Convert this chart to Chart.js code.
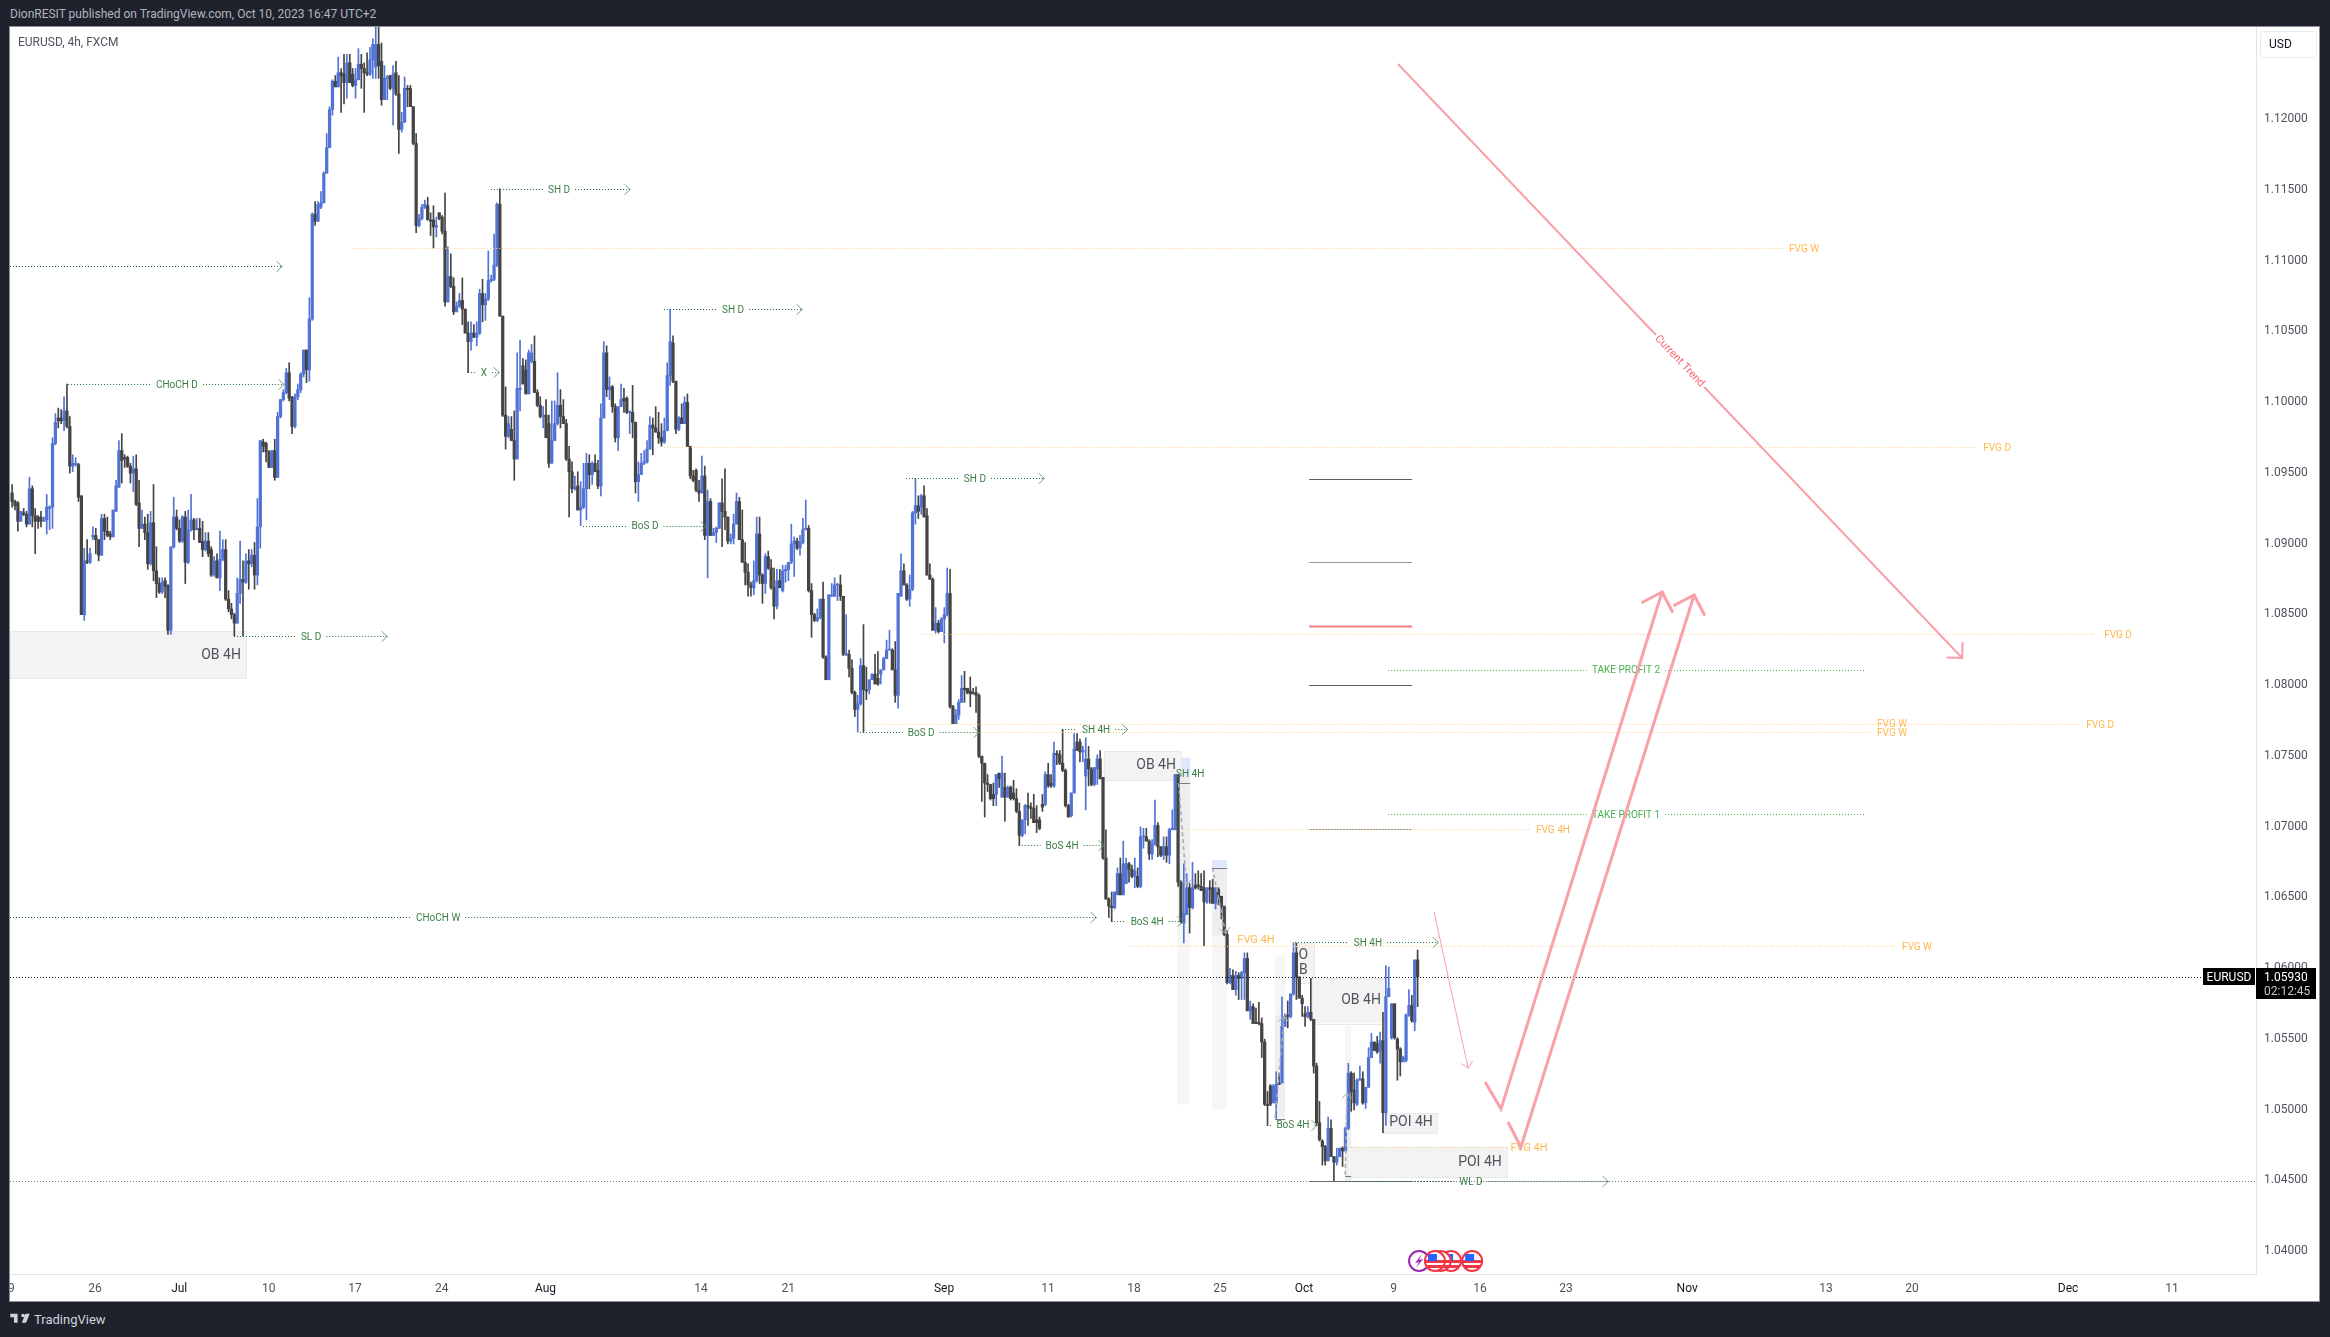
<!DOCTYPE html>
<html>
<head>
<meta charset="utf-8">
<title>EURUSD, 4h, FXCM</title>
<script src="https://cdn.jsdelivr.net/npm/chart.js@4/dist/chart.umd.js"></script>
<style>
	html, body { margin: 0; padding: 0; width: 2330px; height: 1337px; overflow: hidden; background: #1e222d; font-family: Roboto, sans-serif; }
	#publisher { position: absolute; left: 10px; top: 6px; font-size: 12px; line-height: 16px; color: #b2b5be; white-space: nowrap; }
	#frame { position: absolute; left: 10px; top: 27px; width: 2309px; height: 1274px; background: #fff; box-shadow: 0 0 0 1px #8b8e96; }
	#symbol { position: absolute; left: 18px; top: 34px; font-size: 12px; line-height: 16px; color: #50535e; white-space: nowrap; }
	#brand { position: absolute; left: 10px; top: 1311px; height: 18px; color: #d1d4dc; font-size: 13px; line-height: 18px; white-space: nowrap; }
	#brand svg { position: absolute; left: -1px; top: -1px; width: 22px; height: 17px; fill: #d1d4dc; }
	#brand span { position: absolute; left: 24px; top: 0; }
</style>
</head>
<body>
<div id="publisher">DionRESIT published on TradingView.com, Oct 10, 2023 16:47 UTC+2</div>
<div id="frame"><canvas id="chart" width="2309" height="1274"></canvas></div>
<div id="symbol">EURUSD, 4h, FXCM</div>
<div id="brand"><svg viewBox="0 0 36 28"><path d="M14 6H2v6h6v9h6V6zm14 15h-7l6-15h7l-6 15zm-5-9a3 3 0 100-6 3 3 0 000 6z"/></svg><span>TradingView</span></div>
<script>
// 4h candles, one entry per bar
const opens = [
1.0935,1.0929,1.0928,1.0915,1.0921,1.0920,1.0913,1.0938,1.0919,1.0918,
1.0918,1.0915,1.0916,1.0924,1.0925,1.0970,1.0988,1.0988,1.0986,1.0993,
1.0982,1.0954,1.0955,1.0955,1.0933,1.0849,1.0887,1.0886,1.0904,1.0905,
1.0902,1.0891,1.0917,1.0908,1.0906,1.0904,1.0922,1.0939,1.0965,1.0960,
1.0960,1.0954,1.0949,1.0952,1.0928,1.0910,1.0913,1.0907,1.0885,1.0914,
1.0880,1.0871,1.0865,1.0873,1.0870,1.0838,1.0897,1.0918,1.0910,1.0901,
1.0918,1.0886,1.0909,1.0916,1.0909,1.0910,1.0901,1.0895,1.0901,1.0895,
1.0877,1.0887,1.0875,1.0888,1.0895,1.0860,1.0853,1.0849,1.0843,1.0864,
1.0874,1.0872,1.0887,1.0885,1.0891,1.0877,1.0911,1.0971,1.0970,1.0964,
1.0953,1.0965,1.0946,1.0989,1.1001,1.1006,1.1020,1.1003,1.0982,1.1003,
1.1008,1.1019,1.1036,1.1022,1.1058,1.1132,1.1127,1.1137,1.1140,1.1161,
1.1179,1.1206,1.1226,1.1222,1.1232,1.1231,1.1225,1.1239,1.1231,1.1223,
1.1227,1.1238,1.1235,1.1232,1.1231,1.1241,1.1236,1.1252,1.1240,1.1213,
1.1228,1.1230,1.1221,1.1232,1.1217,1.1192,1.1197,1.1221,1.1221,1.1208,
1.1182,1.1124,1.1129,1.1137,1.1138,1.1128,1.1128,1.1123,1.1133,1.1130,
1.1120,1.1070,1.1088,1.1081,1.1063,1.1067,1.1071,1.1065,1.1048,1.1042,
1.1048,1.1045,1.1048,1.1076,1.1068,1.1072,1.1085,1.1086,1.1096,1.1139,
1.1060,1.0990,1.0975,1.0980,1.0972,1.0959,1.1008,1.1025,1.1022,1.1005,
1.1028,1.1028,1.1006,1.0997,1.0989,1.0990,1.0984,1.0956,1.0972,1.0984,
1.0997,1.0989,1.0984,1.0959,1.0950,1.0938,1.0940,1.0923,1.0925,1.0938,
1.0956,1.0948,1.0956,1.0951,1.0940,1.0988,1.1034,1.1008,1.1010,1.0996,
1.0974,1.0996,1.1002,1.1002,1.0992,1.0992,1.0985,1.0943,1.0948,1.0956,
1.0957,1.0966,1.0983,1.0981,1.0978,1.0974,1.0971,1.0979,1.1018,1.1041,
1.1014,1.0980,1.0988,1.0984,1.0999,1.0968,1.0947,1.0951,1.0937,1.0935,
1.0947,1.0905,1.0929,1.0905,1.0907,1.0910,1.0928,1.0922,1.0918,1.0901,
1.0903,1.0913,1.0929,1.0902,1.0886,1.0879,1.0870,1.0868,1.0873,1.0906,
1.0877,1.0871,1.0890,1.0882,1.0868,1.0855,1.0873,1.0866,1.0880,1.0881,
1.0886,1.0899,1.0901,1.0896,1.0900,1.0909,1.0910,1.0866,1.0849,1.0845,
1.0847,1.0860,1.0819,1.0803,1.0862,1.0862,1.0870,1.0870,1.0862,1.0821,
1.0821,1.0811,1.0794,1.0782,1.0786,1.0813,1.0796,1.0796,1.0803,1.0807,
1.0804,1.0807,1.0810,1.0818,1.0824,1.0824,1.0810,1.0792,1.0862,1.0880,
1.0870,1.0860,1.0867,1.0921,1.0926,1.0925,1.0933,1.0919,1.0877,1.0874,
1.0838,1.0843,1.0837,1.0846,1.0849,1.0864,1.0784,1.0772,1.0778,1.0787,
1.0797,1.0797,1.0795,1.0794,1.0794,1.0792,1.0749,1.0744,1.0730,1.0729,
1.0722,1.0722,1.0737,1.0720,1.0727,1.0720,1.0727,1.0723,1.0719,1.0710,
1.0693,1.0704,1.0714,1.0713,1.0712,1.0704,1.0704,1.0715,1.0715,1.0736,
1.0730,1.0728,1.0751,1.0750,1.0744,1.0739,1.0714,1.0707,1.0723,1.0759,
1.0759,1.0752,1.0735,1.0747,1.0740,1.0729,1.0740,1.0747,1.0734,1.0677,
1.0648,1.0643,1.0642,1.0651,1.0666,1.0651,1.0659,1.0673,1.0669,1.0664,
1.0664,1.0657,1.0692,1.0692,1.0689,1.0680,1.0687,1.0700,1.0685,1.0679,
1.0685,1.0679,1.0697,1.0697,1.0736,1.0660,1.0631,1.0637,1.0656,1.0642,
1.0658,1.0658,1.0657,1.0656,1.0646,1.0656,1.0656,1.0645,1.0655,1.0650,
1.0643,1.0623,1.0589,1.0594,1.0584,1.0594,1.0592,1.0596,1.0606,1.0569,
1.0572,1.0561,1.0561,1.0560,1.0547,1.0503,1.0516,1.0504,1.0504,1.0518,
1.0518,1.0558,1.0566,1.0565,1.0581,1.0610,1.0593,1.0578,1.0567,1.0565,
1.0568,1.0563,1.0530,1.0490,1.0477,1.0473,1.0463,1.0486,1.0466,1.0462,
1.0466,1.0472,1.0470,1.0486,1.0525,1.0513,1.0503,1.0520,1.0521,1.0504,
1.0515,1.0536,1.0547,1.0546,1.0541,1.0548,1.0497,1.0579,1.0550,1.0574,
1.0549,1.0542,1.0533,1.0534,1.0566,1.0573,1.0561,1.0605
];
const closes = [
1.0929,1.0926,1.0915,1.0922,1.0920,1.0913,1.0938,1.0919,1.0915,1.0915,
1.0915,1.0916,1.0925,1.0925,1.0970,1.0985,1.0986,1.0986,1.0993,1.0982,
1.0954,1.0956,1.0956,1.0932,1.0849,1.0887,1.0886,1.0892,1.0905,1.0902,
1.0891,1.0917,1.0908,1.0905,1.0904,1.0923,1.0940,1.0965,1.0958,1.0959,
1.0954,1.0949,1.0952,1.0927,1.0910,1.0913,1.0907,1.0885,1.0914,1.0880,
1.0871,1.0865,1.0872,1.0869,1.0838,1.0897,1.0918,1.0910,1.0901,1.0918,
1.0886,1.0909,1.0916,1.0909,1.0910,1.0900,1.0895,1.0901,1.0892,1.0877,
1.0887,1.0875,1.0888,1.0895,1.0860,1.0853,1.0849,1.0843,1.0864,1.0874,
1.0872,1.0887,1.0885,1.0891,1.0877,1.0911,1.0972,1.0968,1.0964,1.0953,
1.0965,1.0946,1.0989,1.1001,1.1006,1.1020,1.1002,1.0982,1.1003,1.1008,
1.1019,1.1036,1.1022,1.1058,1.1132,1.1127,1.1139,1.1140,1.1161,1.1179,
1.1206,1.1226,1.1222,1.1232,1.1230,1.1225,1.1239,1.1225,1.1223,1.1227,
1.1238,1.1235,1.1232,1.1231,1.1241,1.1252,1.1252,1.1237,1.1213,1.1228,
1.1229,1.1221,1.1231,1.1217,1.1192,1.1197,1.1221,1.1220,1.1208,1.1182,
1.1124,1.1129,1.1137,1.1139,1.1128,1.1127,1.1123,1.1124,1.1129,1.1120,
1.1070,1.1088,1.1081,1.1063,1.1067,1.1071,1.1065,1.1048,1.1042,1.1048,
1.1045,1.1048,1.1076,1.1068,1.1072,1.1085,1.1086,1.1096,1.1139,1.1060,
1.0990,1.0975,1.0984,1.0972,1.0959,1.1009,1.1009,1.1012,1.1005,1.1034,
1.1034,1.1006,1.0997,1.0989,1.0990,1.0974,1.0956,1.0972,1.0984,1.0997,
1.0989,1.0984,1.0959,1.0950,1.0938,1.0939,1.0923,1.0925,1.0938,1.0956,
1.0948,1.0956,1.0950,1.0940,1.0988,1.1034,1.1008,1.1010,1.0996,1.0974,
1.0996,1.1001,1.1000,1.0992,1.0992,1.0985,1.0943,1.0948,1.0956,1.0957,
1.0966,1.0983,1.0981,1.0978,1.0974,1.0971,1.0979,1.1018,1.1042,1.1014,
1.0980,1.0988,1.0984,1.0999,1.0968,1.0947,1.0944,1.0937,1.0935,1.0947,
1.0905,1.0929,1.0905,1.0907,1.0910,1.0928,1.0922,1.0918,1.0901,1.0903,
1.0913,1.0929,1.0902,1.0886,1.0879,1.0870,1.0868,1.0873,1.0906,1.0877,
1.0871,1.0890,1.0882,1.0868,1.0855,1.0873,1.0868,1.0880,1.0881,1.0886,
1.0899,1.0901,1.0896,1.0900,1.0909,1.0910,1.0866,1.0849,1.0845,1.0847,
1.0860,1.0819,1.0803,1.0863,1.0863,1.0870,1.0870,1.0862,1.0821,1.0821,
1.0811,1.0794,1.0782,1.0786,1.0813,1.0796,1.0795,1.0803,1.0807,1.0800,
1.0800,1.0810,1.0818,1.0824,1.0824,1.0810,1.0792,1.0864,1.0880,1.0870,
1.0860,1.0867,1.0921,1.0926,1.0922,1.0933,1.0918,1.0877,1.0874,1.0838,
1.0843,1.0837,1.0846,1.0849,1.0864,1.0784,1.0772,1.0778,1.0787,1.0797,
1.0796,1.0794,1.0793,1.0793,1.0792,1.0749,1.0744,1.0730,1.0729,1.0719,
1.0719,1.0736,1.0733,1.0737,1.0720,1.0727,1.0719,1.0719,1.0710,1.0693,
1.0704,1.0714,1.0713,1.0712,1.0702,1.0702,1.0698,1.0713,1.0736,1.0728,
1.0728,1.0751,1.0750,1.0744,1.0739,1.0714,1.0706,1.0723,1.0754,1.0753,
1.0752,1.0753,1.0747,1.0740,1.0729,1.0741,1.0747,1.0733,1.0677,1.0648,
1.0643,1.0642,1.0653,1.0666,1.0651,1.0673,1.0673,1.0669,1.0664,1.0668,
1.0657,1.0692,1.0692,1.0689,1.0680,1.0687,1.0700,1.0685,1.0679,1.0685,
1.0679,1.0697,1.0698,1.0736,1.0660,1.0632,1.0638,1.0656,1.0642,1.0656,
1.0656,1.0657,1.0654,1.0646,1.0656,1.0655,1.0645,1.0656,1.0649,1.0643,
1.0623,1.0589,1.0594,1.0584,1.0594,1.0592,1.0596,1.0606,1.0569,1.0572,
1.0560,1.0560,1.0560,1.0547,1.0503,1.0502,1.0503,1.0516,1.0517,1.0517,
1.0558,1.0565,1.0565,1.0581,1.0610,1.0593,1.0578,1.0574,1.0565,1.0568,
1.0563,1.0530,1.0490,1.0478,1.0473,1.0463,1.0486,1.0466,1.0462,1.0466,
1.0472,1.0470,1.0486,1.0525,1.0512,1.0504,1.0520,1.0521,1.0504,1.0515,
1.0536,1.0547,1.0541,1.0540,1.0548,1.0497,1.0579,1.0585,1.0574,1.0550,
1.0542,1.0533,1.0536,1.0566,1.0573,1.0562,1.0605,1.0593
];
const highs = [
1.0941,1.0930,1.0929,1.0922,1.0924,1.0922,1.0946,1.0940,1.0924,1.0919,
1.0922,1.0918,1.0934,1.0926,1.0974,1.0991,1.0995,1.0994,1.1003,1.1012,
1.0989,1.0962,1.0960,1.0956,1.0933,1.0896,1.0902,1.0896,1.0911,1.0910,
1.0902,1.0920,1.0920,1.0918,1.0908,1.0923,1.0944,1.0972,1.0977,1.0962,
1.0961,1.0956,1.0961,1.0962,1.0944,1.0923,1.0918,1.0920,1.0922,1.0941,
1.0897,1.0875,1.0875,1.0875,1.0870,1.0897,1.0932,1.0923,1.0916,1.0919,
1.0922,1.0923,1.0934,1.0917,1.0917,1.0917,1.0915,1.0907,1.0907,1.0897,
1.0890,1.0892,1.0908,1.0902,1.0902,1.0866,1.0857,1.0850,1.0875,1.0901,
1.0887,1.0892,1.0895,1.0895,1.0900,1.0931,1.0972,1.0973,1.0971,1.0965,
1.0965,1.0973,1.0992,1.1001,1.1008,1.1023,1.1027,1.1003,1.1005,1.1012,
1.1020,1.1036,1.1036,1.1073,1.1133,1.1141,1.1141,1.1148,1.1162,1.1189,
1.1208,1.1227,1.1230,1.1243,1.1235,1.1245,1.1245,1.1245,1.1235,1.1235,
1.1249,1.1245,1.1239,1.1246,1.1250,1.1256,1.1265,1.1270,1.1253,1.1237,
1.1230,1.1230,1.1237,1.1240,1.1230,1.1204,1.1229,1.1223,1.1223,1.1208,
1.1189,1.1132,1.1139,1.1142,1.1144,1.1133,1.1138,1.1130,1.1133,1.1131,
1.1147,1.1109,1.1104,1.1087,1.1070,1.1076,1.1087,1.1065,1.1056,1.1056,
1.1054,1.1056,1.1079,1.1086,1.1076,1.1106,1.1089,1.1118,1.1140,1.1150,
1.1060,1.1010,1.0989,1.0989,1.0993,1.1034,1.1043,1.1030,1.1029,1.1036,
1.1040,1.1046,1.1008,1.1003,1.0996,1.1001,1.0990,1.1000,1.1000,1.1020,
1.1008,1.1001,1.0987,1.0968,1.0957,1.0947,1.0950,1.0943,1.0956,1.0963,
1.0962,1.0957,1.0962,1.0958,1.0998,1.1042,1.1039,1.1017,1.1011,1.0998,
1.0996,1.1012,1.1009,1.1003,1.0993,1.1011,1.0985,1.0957,1.0963,1.0965,
1.0972,1.0989,1.0988,1.0996,1.0992,1.0984,1.0988,1.1027,1.1065,1.1046,
1.1014,1.0989,1.0998,1.1003,1.1005,1.0968,1.0951,1.0952,1.0944,1.0961,
1.0954,1.0937,1.0931,1.0910,1.0911,1.0928,1.0945,1.0952,1.0918,1.0906,
1.0920,1.0935,1.0932,1.0923,1.0900,1.0885,1.0872,1.0887,1.0918,1.0918,
1.0878,1.0892,1.0894,1.0888,1.0882,1.0881,1.0881,1.0884,1.0884,1.0886,
1.0913,1.0904,1.0903,1.0905,1.0917,1.0930,1.0912,1.0871,1.0850,1.0853,
1.0860,1.0872,1.0820,1.0863,1.0871,1.0875,1.0871,1.0877,1.0862,1.0849,
1.0824,1.0817,1.0795,1.0792,1.0818,1.0842,1.0812,1.0803,1.0807,1.0821,
1.0823,1.0810,1.0819,1.0831,1.0838,1.0825,1.0830,1.0864,1.0892,1.0885,
1.0871,1.0877,1.0922,1.0945,1.0933,1.0934,1.0940,1.0924,1.0885,1.0875,
1.0854,1.0845,1.0847,1.0854,1.0882,1.0881,1.0785,1.0782,1.0789,1.0806,
1.0809,1.0797,1.0805,1.0797,1.0798,1.0793,1.0749,1.0744,1.0736,1.0729,
1.0730,1.0736,1.0737,1.0749,1.0737,1.0728,1.0728,1.0732,1.0726,1.0716,
1.0704,1.0715,1.0723,1.0716,1.0722,1.0714,1.0706,1.0722,1.0738,1.0744,
1.0736,1.0759,1.0753,1.0753,1.0768,1.0740,1.0715,1.0723,1.0765,1.0765,
1.0761,1.0756,1.0762,1.0756,1.0741,1.0741,1.0750,1.0753,1.0734,1.0697,
1.0649,1.0653,1.0653,1.0670,1.0677,1.0689,1.0677,1.0674,1.0672,1.0677,
1.0670,1.0699,1.0698,1.0698,1.0690,1.0690,1.0718,1.0702,1.0685,1.0692,
1.0692,1.0698,1.0711,1.0736,1.0736,1.0661,1.0673,1.0666,1.0659,1.0674,
1.0666,1.0668,1.0666,1.0668,1.0656,1.0661,1.0662,1.0656,1.0656,1.0650,
1.0643,1.0626,1.0599,1.0598,1.0597,1.0596,1.0597,1.0610,1.0610,1.0576,
1.0574,1.0571,1.0575,1.0564,1.0549,1.0512,1.0517,1.0517,1.0526,1.0525,
1.0579,1.0567,1.0576,1.0581,1.0617,1.0617,1.0593,1.0580,1.0572,1.0572,
1.0592,1.0563,1.0532,1.0505,1.0478,1.0474,1.0494,1.0492,1.0466,1.0472,
1.0472,1.0473,1.0487,1.0532,1.0526,1.0525,1.0521,1.0530,1.0526,1.0515,
1.0543,1.0553,1.0547,1.0551,1.0554,1.0568,1.0601,1.0600,1.0574,1.0574,
1.0550,1.0543,1.0537,1.0567,1.0584,1.0580,1.0605,1.0612
];
const lows = [
1.0925,1.0923,1.0908,1.0915,1.0919,1.0911,1.0913,1.0911,1.0892,1.0910,
1.0911,1.0915,1.0906,1.0909,1.0910,1.0969,1.0981,1.0984,1.0979,1.0981,
1.0949,1.0950,1.0954,1.0929,1.0849,1.0845,1.0885,1.0885,1.0902,1.0892,
1.0887,1.0891,1.0902,1.0904,1.0902,1.0904,1.0922,1.0939,1.0942,1.0953,
1.0953,1.0942,1.0936,1.0926,1.0897,1.0910,1.0902,1.0881,1.0884,1.0873,
1.0861,1.0864,1.0864,1.0861,1.0835,1.0835,1.0896,1.0909,1.0900,1.0900,
1.0871,1.0885,1.0908,1.0902,1.0909,1.0900,1.0890,1.0894,1.0890,1.0876,
1.0876,1.0875,1.0866,1.0887,1.0859,1.0851,1.0846,1.0834,1.0843,1.0857,
1.0834,1.0871,1.0867,1.0883,1.0867,1.0870,1.0896,1.0964,1.0957,1.0953,
1.0953,1.0944,1.0946,1.0988,1.1000,1.1005,1.1000,1.0977,1.0981,1.1001,
1.1006,1.1017,1.1013,1.1014,1.1057,1.1124,1.1127,1.1136,1.1140,1.1161,
1.1179,1.1202,1.1222,1.1222,1.1204,1.1210,1.1214,1.1225,1.1222,1.1214,
1.1227,1.1221,1.1204,1.1230,1.1230,1.1228,1.1228,1.1228,1.1209,1.1213,
1.1213,1.1220,1.1195,1.1216,1.1175,1.1190,1.1197,1.1208,1.1208,1.1181,
1.1119,1.1123,1.1128,1.1136,1.1128,1.1117,1.1108,1.1116,1.1128,1.1118,
1.1067,1.1070,1.1080,1.1061,1.1063,1.1066,1.1054,1.1048,1.1020,1.1036,
1.1045,1.1039,1.1047,1.1056,1.1057,1.1071,1.1084,1.1085,1.1095,1.1060,
1.0989,1.0966,1.0974,1.0972,1.0944,1.0959,1.0993,1.1012,1.1005,1.1005,
1.1027,1.1006,1.0996,1.0988,1.0981,1.0974,1.0953,1.0956,1.0972,1.0983,
1.0981,1.0984,1.0958,1.0918,1.0935,1.0937,1.0923,1.0912,1.0924,1.0916,
1.0938,1.0941,1.0950,1.0938,1.0933,1.0988,1.1003,1.1001,1.0992,1.0971,
1.0965,1.0996,1.0992,1.0991,1.0977,1.0974,1.0935,1.0929,1.0948,1.0955,
1.0956,1.0966,1.0962,1.0978,1.0970,1.0968,1.0970,1.0979,1.1011,1.1013,
1.0977,1.0979,1.0984,1.0984,1.0968,1.0945,1.0943,1.0936,1.0929,1.0935,
1.0902,1.0875,1.0905,1.0905,1.0900,1.0910,1.0897,1.0909,1.0899,1.0899,
1.0899,1.0913,1.0902,1.0886,1.0870,1.0862,1.0862,1.0863,1.0872,1.0871,
1.0857,1.0864,1.0881,1.0867,1.0846,1.0853,1.0868,1.0865,1.0872,1.0873,
1.0885,1.0876,1.0895,1.0891,1.0899,1.0909,1.0865,1.0833,1.0844,1.0844,
1.0846,1.0818,1.0803,1.0803,1.0862,1.0862,1.0859,1.0859,1.0820,1.0820,
1.0805,1.0793,1.0777,1.0766,1.0785,1.0766,1.0789,1.0793,1.0803,1.0800,
1.0799,1.0800,1.0810,1.0818,1.0824,1.0810,1.0787,1.0783,1.0862,1.0870,
1.0859,1.0855,1.0866,1.0913,1.0917,1.0920,1.0918,1.0877,1.0874,1.0838,
1.0836,1.0836,1.0837,1.0829,1.0848,1.0783,1.0772,1.0772,1.0775,1.0787,
1.0787,1.0793,1.0784,1.0793,1.0780,1.0748,1.0717,1.0706,1.0724,1.0718,
1.0714,1.0714,1.0727,1.0720,1.0703,1.0720,1.0718,1.0718,1.0709,1.0686,
1.0692,1.0694,1.0700,1.0705,1.0702,1.0695,1.0697,1.0710,1.0714,1.0727,
1.0727,1.0727,1.0743,1.0743,1.0738,1.0713,1.0706,1.0706,1.0723,1.0753,
1.0745,1.0745,1.0711,1.0728,1.0728,1.0728,1.0729,1.0733,1.0676,1.0648,
1.0635,1.0632,1.0641,1.0651,1.0651,1.0651,1.0659,1.0660,1.0663,1.0656,
1.0656,1.0656,1.0684,1.0689,1.0676,1.0676,1.0686,1.0678,1.0678,1.0676,
1.0674,1.0673,1.0697,1.0697,1.0657,1.0631,1.0617,1.0637,1.0624,1.0641,
1.0655,1.0655,1.0654,1.0615,1.0645,1.0645,1.0645,1.0641,1.0644,1.0634,
1.0622,1.0588,1.0588,1.0584,1.0580,1.0577,1.0577,1.0577,1.0569,1.0563,
1.0560,1.0560,1.0559,1.0536,1.0502,1.0488,1.0502,1.0504,1.0493,1.0517,
1.0518,1.0558,1.0557,1.0564,1.0580,1.0577,1.0578,1.0565,1.0558,1.0564,
1.0562,1.0525,1.0488,1.0477,1.0460,1.0460,1.0463,1.0466,1.0449,1.0460,
1.0466,1.0459,1.0470,1.0485,1.0498,1.0499,1.0502,1.0520,1.0503,1.0500,
1.0515,1.0536,1.0541,1.0539,1.0532,1.0483,1.0488,1.0579,1.0549,1.0549,
1.0520,1.0523,1.0533,1.0533,1.0565,1.0561,1.0555,1.0572
];

const lastPrice = 1.0593;
const priceTicks = [1.04, 1.045, 1.05, 1.055, 1.06, 1.065, 1.07, 1.075, 1.08, 1.085, 1.09, 1.095, 1.1, 1.105, 1.11, 1.115, 1.12];
const timeTickBars = [-1.4, 28.7, 57.9, 88.9, 118.8, 148.9, 184.8, 238.7, 268.9, 322.9, 358.9, 388.7, 418.5, 447.6, 478.7, 508.6, 538.4, 580.4, 628.5, 658.3, 712.4, 748.4];
const timeTickLabels = ['19', '26', 'Jul', '10', '17', '24', 'Aug', '14', '21', 'Sep', '11', '18', '25', 'Oct', '9', '16', '23', 'Nov', '13', '20', 'Dec', '11'];

// [first bar, last bar, price, label, bar of the label]
const structureLevels = [
	[-0.73, 93.5, 1.10954, '', 0],
	[19.4, 94.2, 1.10118, 'CHoCH D', 57.1],
	[165.9, 214.1, 1.11496, 'SH D', 189.5],
	[158, 168.7, 1.10202, 'X', 163.5],
	[76.9, 129.9, 1.08339, 'SL D', 103.6],
	[225.9, 273.7, 1.10648, 'SH D', 249.8],
	[197.8, 240.4, 1.09119, 'BoS D', 219.3],
	[309.7, 357.6, 1.09453, 'SH D', 333.6],
	[293.8, 335, 1.07658, 'BoS D', 315],
	[364.8, 386.5, 1.0768, 'SH 4H', 375.6],
	[348.8, 378.3, 1.0686, 'BoS 4H', 363.8],
	[-0.73, 375.6, 1.06351, 'CHoCH W', 147.6],
	[380.8, 405.7, 1.06323, 'BoS 4H', 393.3],
	[444.5, 494.1, 1.06174, 'SH 4H', 469.8],
	[434.8, 452.1, 1.04884, 'BoS 4H', 443.8],
	[460.1, 553, 1.04486, 'WL D', 505.5]
];
const gapLevels = [
	[117.8, 616, 1.11079, 'FVG W', 620.9],
	[225.9, 680.5, 1.09672, 'FVG D', 687.8],
	[315.6, 721.7, 1.08351, 'FVG D', 729.7],
	[297.3, 716.5, 1.07717, 'FVG D', 723.5],
	[333.6, 644.5, 1.07658, 'FVG W', 651.4],
	[405.7, 528.7, 1.06973, 'FVG 4H', 533.9],
	[387.7, 652.4, 1.06146, 'FVG W', 660],
	[462.5, 518.3, 1.04726, '', 0]
];
const gapNotes = [[651.4, 1.07724, 'FVG W'], [431, 1.06195, 'FVG 4H'], [525.6, 1.04726, 'FVG 4H']];
const profitLevels = [
	[476.8, 642.4, 1.081, 'TAKE PROFIT 2', 559.2],
	[476.8, 642.4, 1.07081, 'TAKE PROFIT 1', 559.2]
];
const swingNote = [408.2, 1.07369, 'SH 4H'];
const riskBars = [449.4, 485.1];
const riskDarkPrices = [1.09452, 1.07993, 1.0449];
const riskGreyPrices = [1.08862, 1.06975];
const riskRedPrices = [1.08413];

// [first bar, last bar, upper price, lower price, label, bar of the label, price of the label]
const zoneBoxes = [
	[-0.73, 81, 1.08374, 1.0804, 'OB 4H', 72.4, 1.08212],
	[378.2, 404.9, 1.07526, 1.07319, 'OB 4H', 396.4, 1.07428],
	[444.5, 451.1, 1.06168, 1.05885, '', 0, 0],
	[450.4, 475.7, 1.05925, 1.05602, 'OB 4H', 467.4, 1.05767],
	[474.7, 493.7, 1.04966, 1.04825, 'POI 4H', 484.7, 1.04906],
	[462.5, 518, 1.04726, 1.04511, 'POI 4H', 508.6, 1.04629]
];
const verticalLetters = [[447.4, 1.06085, 'O'], [447.4, 1.05984, 'B']];

// [first bar, last bar, top, bottom of the blue part, bottom of the grey part, bottom of the pale part]
const rangeColumns = [
	[403.6, 408.2, 1.07479, 1.0735, 1.066, 1.0503],
	[415.8, 421, 1.06756, 1.06702, 1.06226, 1.04997]
];
// [first bar, last bar, top of the pale part, top of the grey part, bottom]
const reverseColumns = [
	[437.6, 441.1, 1.06078, 1.05661, 1.04931],
	[461.9, 464, 1.05583, 1.05084, 1.0449]
];
const rangeMoves = [
	[404.2, 1.07298, 406.9, 1.06579],
	[415.9, 1.06702, 420.5, 1.06238],
	[437.6, 1.04931, 440.8, 1.0565],
	[461.9, 1.04531, 462.6, 1.05108]
];
const rangeEdges = [
	[403.6, 408.2, 1.07298],
	[415.8, 421, 1.06702],
	[437.6, 441.1, 1.04926],
	[461.9, 464, 1.04523]
];

const trendUpper = [[480.2, 1.12382], [569.6, 1.10466]];
const trendLower = [[586.3, 1.10099], [675.7, 1.08184]];
const trendNote = [578, 1.10286, 'Current Trend'];
const smallDrop = [[492.7, 1.06389], [504.5, 1.05286]];
const bigMoveA = [[510.4, 1.05187], [515.9, 1.04997], [571.7, 1.0865]];
const bigMoveB = [[518.3, 1.04905], [522.8, 1.04728], [582.8, 1.08629]];

const powerEventBars = [487.5];
const usEventBars = [505.9, 498.6, 495, 493];

const STRUCTURE_GREEN = '#1f6b2a', STRUCTURE_TEXT = '#3c7d46';
const GAP_ORANGE = '#ffcc80', GAP_TEXT = '#ffb74d';
const PINK = '#f9a0a8';
const UP = '#5273d6', DOWN = '#444444';

document.addEventListener( 'DOMContentLoaded', function () {
	Chart.defaults.font.family = 'Roboto, sans-serif';
	Chart.defaults.font.size = 12;

	const barColors = opens.map( function ( open, i ) {
		return closes[ i ] >= open ? UP : DOWN;
	} );

	function hline( ctx, x0, x1, y, color, dash, width ) {
		ctx.save();
		ctx.strokeStyle = color;
		ctx.lineWidth = width || 1;
		ctx.setLineDash( dash || [] );
		ctx.beginPath();
		ctx.moveTo( x0, Math.round( y ) + 0.5 );
		ctx.lineTo( x1, Math.round( y ) + 0.5 );
		ctx.stroke();
		ctx.restore();
	}

	function tag( ctx, text, x, y, color, font, align ) {
		ctx.save();
		ctx.font = font;
		ctx.fillStyle = color;
		ctx.textAlign = align || 'center';
		ctx.textBaseline = 'middle';
		ctx.fillText( text, x, y + 1 );
		ctx.restore();
	}

	function arrowHead( ctx, tipX, tipY, fromX, fromY, length, color, width, dash ) {
		const angle = Math.atan2( fromY - tipY, fromX - tipX );
		ctx.save();
		ctx.strokeStyle = color;
		ctx.lineWidth = width;
		ctx.setLineDash( dash || [] );
		ctx.lineCap = 'round';
		[ -Math.PI / 4, Math.PI / 4 ].forEach( function ( d ) {
			ctx.beginPath();
			ctx.moveTo( tipX, tipY );
			ctx.lineTo( tipX + Math.cos( angle + d ) * length, tipY + Math.sin( angle + d ) * length );
			ctx.stroke();
		} );
		ctx.restore();
	}

	function polyline( ctx, points, px, py, color, width, dash ) {
		ctx.save();
		ctx.strokeStyle = color;
		ctx.lineWidth = width;
		ctx.lineJoin = 'miter';
		ctx.setLineDash( dash || [] );
		ctx.beginPath();
		points.forEach( function ( p, i ) {
			if ( i === 0 ) {
				ctx.moveTo( px( p[ 0 ] ), py( p[ 1 ] ) );
			} else {
				ctx.lineTo( px( p[ 0 ] ), py( p[ 1 ] ) );
			}
		} );
		ctx.stroke();
		ctx.restore();
	}

	// A dotted level with its label sitting in a gap of the line
	function level( ctx, row, px, py, lineColor, textColor, font, withArrow ) {
		const x0 = px( row[ 0 ] ), x1 = px( row[ 1 ] ), y = py( row[ 2 ] ), dash = [ 1, 2 ];
		if ( row[ 3 ] ) {
			ctx.font = font;
			const half = ctx.measureText( row[ 3 ] ).width / 2 + 5, lx = px( row[ 4 ] );
			if ( lx - half > x0 ) {
				hline( ctx, x0, Math.min( lx - half, x1 ), y, lineColor, dash );
			}
			if ( lx + half < x1 ) {
				hline( ctx, lx + half, x1, y, lineColor, dash );
			}
			tag( ctx, row[ 3 ], lx, y, textColor, font );
		} else {
			hline( ctx, x0, x1, y, lineColor, dash );
		}
		if ( withArrow ) {
			arrowHead( ctx, x1, Math.round( y ) + 0.5, x0, Math.round( y ) + 0.5, 7, '#5a8f63', 1, [ 2, 1 ] );
		}
	}

	function eventBadge( ctx, x, y, ring, drawInner ) {
		ctx.save();
		ctx.beginPath();
		ctx.arc( x, y, 10, 0, Math.PI * 2 );
		ctx.fillStyle = '#fff';
		ctx.fill();
		ctx.clip();
		drawInner();
		ctx.restore();
		ctx.beginPath();
		ctx.arc( x, y, 10, 0, Math.PI * 2 );
		ctx.strokeStyle = ring;
		ctx.lineWidth = 2;
		ctx.stroke();
	}

	const backdrop = {
		id: 'backdrop',
		beforeDatasetsDraw: function ( chart ) {
			const ctx = chart.ctx, px = function ( v ) { return chart.scales.x.getPixelForValue( v ); },
				py = function ( v ) { return chart.scales.y.getPixelForValue( v ); };

			function column( x0, x1, top, bottom, color ) {
				ctx.fillStyle = color;
				ctx.fillRect( px( x0 ), py( top ), px( x1 ) - px( x0 ), py( bottom ) - py( top ) );
			}

			rangeColumns.forEach( function ( c ) {
				column( c[ 0 ], c[ 1 ], c[ 2 ], c[ 3 ], '#dfe7fb' );
				column( c[ 0 ], c[ 1 ], c[ 3 ], c[ 4 ], '#eeeef1' );
				column( c[ 0 ], c[ 1 ], c[ 4 ], c[ 5 ], '#f6f6f7' );
			} );
			reverseColumns.forEach( function ( c ) {
				column( c[ 0 ], c[ 1 ], c[ 2 ], c[ 3 ], '#f6f6f7' );
				column( c[ 0 ], c[ 1 ], c[ 3 ], c[ 4 ], '#eeeef1' );
			} );
			zoneBoxes.forEach( function ( b ) {
				const x = px( b[ 0 ] ), y = py( b[ 2 ] ), w = px( b[ 1 ] ) - x, h = py( b[ 3 ] ) - y;
				ctx.fillStyle = '#f3f3f4';
				ctx.fillRect( x, y, w, h );
				ctx.strokeStyle = '#e9e9eb';
				ctx.lineWidth = 1;
				ctx.strokeRect( Math.round( x ) + 0.5, Math.round( y ) + 0.5, Math.round( w ), Math.round( h ) );
			} );
		}
	};

	const drawings = {
		id: 'drawings',
		afterDatasetsDraw: function ( chart ) {
			const ctx = chart.ctx, area = chart.chartArea,
				px = function ( v ) { return chart.scales.x.getPixelForValue( v ); },
				py = function ( v ) { return chart.scales.y.getPixelForValue( v ); };

			ctx.save();
			ctx.beginPath();
			ctx.rect( area.left, area.top, area.right - area.left, area.bottom - area.top );
			ctx.clip();

			// Box labels
			zoneBoxes.forEach( function ( b ) {
				if ( b[ 4 ] ) {
					tag( ctx, b[ 4 ], px( b[ 5 ] ), py( b[ 6 ] ), '#50535e', '14px Roboto' );
				}
			} );
			verticalLetters.forEach( function ( l ) {
				tag( ctx, l[ 2 ], px( l[ 0 ] ), py( l[ 1 ] ), '#50535e', '14px Roboto' );
			} );

			// Moves inside the grey columns
			rangeMoves.forEach( function ( m ) {
				polyline( ctx, [ [ m[ 0 ], m[ 1 ] ], [ m[ 2 ], m[ 3 ] ] ], px, py, '#a9abb2', 1.5, [ 4, 3 ] );
				arrowHead( ctx, px( m[ 2 ] ), py( m[ 3 ] ), px( m[ 0 ] ), py( m[ 1 ] ), 7, '#a9abb2', 1 );
			} );
			rangeEdges.forEach( function ( e ) {
				hline( ctx, px( e[ 0 ] ), px( e[ 1 ] ), py( e[ 2 ] ), '#787b86' );
			} );

			// Risk ruler
			riskDarkPrices.forEach( function ( p ) {
				hline( ctx, px( riskBars[ 0 ] ), px( riskBars[ 1 ] ), py( p ), '#5d606b' );
			} );
			riskGreyPrices.forEach( function ( p ) {
				hline( ctx, px( riskBars[ 0 ] ), px( riskBars[ 1 ] ), py( p ), '#9598a1' );
			} );
			riskRedPrices.forEach( function ( p ) {
				hline( ctx, px( riskBars[ 0 ] ), px( riskBars[ 1 ] ), py( p ), '#f77c80', [], 2 );
			} );

			// Levels
			hline( ctx, area.left, area.right, py( 1.04486 ), '#787b86', [ 1, 2 ] );
			hline( ctx, area.left, px( 762 ), py( lastPrice ), '#131722', [ 1, 2 ] );
			gapLevels.forEach( function ( row ) {
				level( ctx, row, px, py, GAP_ORANGE, GAP_TEXT, '10px Roboto', false );
			} );
			gapNotes.forEach( function ( n ) {
				tag( ctx, n[ 2 ], px( n[ 0 ] ), py( n[ 1 ] ), GAP_TEXT, n[ 2 ] === 'FVG 4H' ? '11px Roboto' : '10px Roboto' );
			} );
			profitLevels.forEach( function ( row ) {
				level( ctx, row, px, py, '#4caf50', '#4caf50', '10px Roboto', false );
			} );
			structureLevels.forEach( function ( row ) {
				level( ctx, row, px, py, STRUCTURE_GREEN, STRUCTURE_TEXT, '10px Roboto', true );
			} );
			tag( ctx, swingNote[ 2 ], px( swingNote[ 0 ] ), py( swingNote[ 1 ] ), STRUCTURE_TEXT, '10px Roboto' );

			// Trend line and projected moves
			polyline( ctx, trendUpper, px, py, PINK, 2 );
			polyline( ctx, trendLower, px, py, PINK, 2 );
			arrowHead( ctx, px( trendLower[ 1 ][ 0 ] ), py( trendLower[ 1 ][ 1 ] ), px( trendLower[ 0 ][ 0 ] ), py( trendLower[ 0 ][ 1 ] ), 15, PINK, 2 );
			ctx.save();
			ctx.translate( px( trendNote[ 0 ] ), py( trendNote[ 1 ] ) );
			ctx.rotate( Math.atan2( py( trendLower[ 1 ][ 1 ] ) - py( trendUpper[ 0 ][ 1 ] ), px( trendLower[ 1 ][ 0 ] ) - px( trendUpper[ 0 ][ 0 ] ) ) );
			tag( ctx, trendNote[ 2 ], 0, 0, '#f7666e', '11px Roboto' );
			ctx.restore();

			polyline( ctx, smallDrop, px, py, PINK, 1 );
			arrowHead( ctx, px( smallDrop[ 1 ][ 0 ] ), py( smallDrop[ 1 ][ 1 ] ), px( smallDrop[ 0 ][ 0 ] ), py( smallDrop[ 0 ][ 1 ] ), 8, PINK, 1 );
			[ bigMoveA, bigMoveB ].forEach( function ( move ) {
				polyline( ctx, move, px, py, PINK, 3 );
				arrowHead( ctx, px( move[ 2 ][ 0 ] ), py( move[ 2 ][ 1 ] ), px( move[ 1 ][ 0 ] ), py( move[ 1 ][ 1 ] ), 22, PINK, 3 );
			} );

			// Economic event badges at the foot of the pane
			const badgeY = area.bottom - 13;
			powerEventBars.forEach( function ( bar ) {
				const x = px( bar );
				eventBadge( ctx, x, badgeY, '#9c27b0', function () {
					ctx.fillStyle = '#9c27b0';
					ctx.beginPath();
					ctx.moveTo( x + 3, badgeY - 7 );
					ctx.lineTo( x - 4, badgeY + 2 );
					ctx.lineTo( x, badgeY + 1 );
					ctx.lineTo( x - 3, badgeY + 7 );
					ctx.lineTo( x + 4, badgeY - 2 );
					ctx.lineTo( x, badgeY - 1 );
					ctx.closePath();
					ctx.fill();
				} );
			} );
			usEventBars.forEach( function ( bar ) {
				const x = px( bar );
				eventBadge( ctx, x, badgeY, '#f23645', function () {
					ctx.fillStyle = '#f23645';
					ctx.fillRect( x - 10, badgeY - 1, 20, 3 );
					ctx.fillRect( x - 10, badgeY + 4, 20, 3 );
					ctx.fillStyle = '#2962ff';
					ctx.fillRect( x - 7, badgeY - 7, 9, 7 );
				} );
			} );
			ctx.restore();

			// Last price labels on the axis
			const y = Math.round( py( lastPrice ) ), axisLeft = area.right;
			ctx.fillStyle = '#000';
			ctx.fillRect( axisLeft - 53, y - 9, 52, 17 );
			ctx.fillRect( axisLeft, y - 9, 60, 31 );
			tag( ctx, 'EURUSD', axisLeft - 27, y, '#fff', '12px Roboto' );
			tag( ctx, '1.05930', axisLeft + 8, y, '#fff', '12px Roboto', 'left' );
			tag( ctx, '02:12:45', axisLeft + 8, y + 14, '#c4c6cd', '12px Roboto', 'left' );

			// Currency button
			ctx.strokeStyle = '#e8ebf3';
			ctx.lineWidth = 1;
			ctx.beginPath();
			ctx.roundRect( axisLeft + 4.5, 4.5, 56, 26, 3 );
			ctx.stroke();
			tag( ctx, 'USD', axisLeft + 13, 17, '#131722', '12px Roboto', 'left' );
		}
	};

	function noPadding( axis ) {
		axis.paddingLeft = 0;
		axis.paddingRight = 0;
		axis.paddingTop = 0;
		axis.paddingBottom = 0;
	}

	new Chart( document.getElementById( 'chart' ), {
		type: 'bar',
		data: {
			datasets: [ {
				data: opens.map( function ( open, i ) { return { x: i, y: [ open, closes[ i ] ] }; } ),
				backgroundColor: barColors,
				barThickness: 2.6,
				minBarLength: 1
			}, {
				data: lows.map( function ( low, i ) { return { x: i, y: [ low, highs[ i ] ] }; } ),
				backgroundColor: barColors,
				barThickness: 1,
				minBarLength: 1
			} ]
		},
		options: {
			responsive: false,
			animation: false,
			devicePixelRatio: 1,
			grouped: false,
			layout: { autoPadding: false },
			plugins: {
				legend: { display: false },
				tooltip: { enabled: false },
				title: { display: false }
			},
			scales: {
				x: {
					type: 'linear',
					offset: false,
					min: -0.73,
					max: 777.5,
					grid: { display: false, offset: false, drawTicks: false },
					border: { color: '#e0e3eb' },
					afterFit: function ( axis ) {
						axis.height = 27;
						noPadding( axis );
					},
					afterBuildTicks: function ( axis ) {
						axis.ticks = timeTickBars.map( function ( value ) { return { value: value }; } );
					},
					ticks: {
						autoSkip: false,
						maxRotation: 0,
						padding: 8,
						color: function ( c ) {
							return /[a-z]/i.test( timeTickLabels[ c.index ] ) ? '#131722' : '#50535e';
						},
						callback: function ( value ) {
							return timeTickLabels[ timeTickBars.indexOf( value ) ];
						}
					}
				},
				y: {
					position: 'right',
					min: 1.038305,
					max: 1.126431,
					grid: { display: false, drawTicks: false },
					border: { color: '#e0e3eb' },
					afterFit: function ( axis ) {
						axis.width = 63;
						noPadding( axis );
					},
					afterBuildTicks: function ( axis ) {
						axis.ticks = priceTicks.map( function ( value ) { return { value: value }; } );
					},
					ticks: {
						padding: 8,
						labelOffset: 1,
						color: '#50535e',
						callback: function ( value ) {
							return value.toFixed( 5 );
						}
					}
				}
			}
		},
		plugins: [ backdrop, drawings ]
	} );
} );
</script>
</body>
</html>
